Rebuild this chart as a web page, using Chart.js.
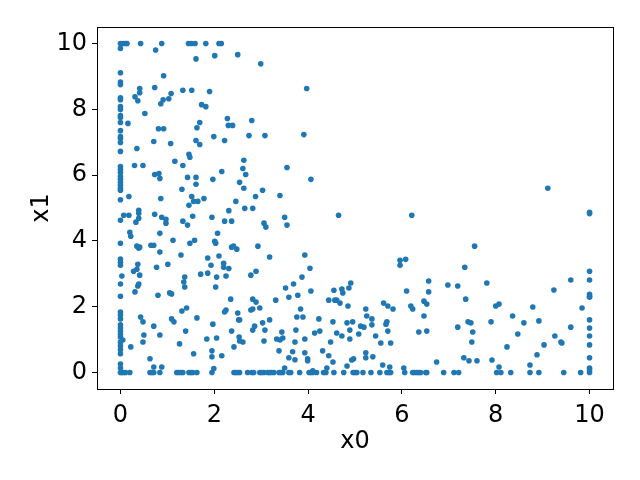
<!DOCTYPE html>
<html>
<head>
<meta charset="utf-8">
<script src="https://cdn.jsdelivr.net/npm/chart.js@4"></script>
<style>
  html, body { margin: 0; padding: 0; background: #fff; }
  canvas { display: block; }
</style>
</head>
<body>
<canvas id="scatter" width="640" height="480"></canvas>
<script>
// x0 / x1 coordinates (same order in both arrays)
const x0 = [
  0, 0.06, 0.11, 0.14, 0.43, 0.88, 1.45, 1.51, 1.59, 1.82, 2.10, 2.15,
  0, 0.75, 1.61, 2.01, 0, 0.92, 0, 0, 0.41, 0.41, 0.73, 1.33,
  1.52, 1.90, 1.08, 0.31, 0.37, 0, 0, 0.91, 0.86, 1.03, 1.73, 1.82,
  0, 0, 0.52, 0, 0, 0.16, 0, 2.28, 2.30, 2.39, 0.81, 0.92,
  1.63, 1.69, 0, 0, 0, 0, 0.71, 1.07, 1.61, 1.69, 1.99, 2.22,
  0, 0.35, 1.46, 1.48, 1.16, 1.33, 0.30, 0.48, 0, 0, 0, 0,
  0, 0, 0, 0, 0, 0, 2.16, 0.73, 0.82, 0.84, 1.43, 1.61,
  1.61, 1.97, 1.31, 0.18, 0.86, 1.52, 1.56, 1.65, 1.78, 1.46, 2.46, 0.39, 2.31,
  2.50, 2.99, 3.97, 2.80, 2.74, 3.08, 3.91, 2.63, 2.61, 2.67, 3.55, 4.06,
  2.54, 2.63, 3.03, 2.88, 3.40, 2.65, 2.82, 9.11,
  0.39, 0.39, 0.07, 0.18, 0, 0.33, 0.73, 0.88, 0.97, 0.97, 1.33, 1.54,
  1.43, 1.95, 2.22, 2.37, 0.20, 0.22, 0.84, 0, 1.12, 1.48, 1.58, 2.01,
  2.03, 2.07, 0.35, 0.39, 0.41, 0.65, 0.71, 0.84, 1.29, 2.37, 2.41, 1.86,
  2.10, 0, 0, 0, 0.37, 0.28, 0.35, 0.41, 0.77, 1.01, 1.93, 2.20,
  2.20, 1.71, 1.86, 2.05, 2.25, 2.03, 1.37, 1.35, 1.37, 0.03, 0, 0.37,
  0.39, 0.31, 0.80, 1.05, 1.09, 0, 1.31, 1.41, 2.25, 2.22,
  0, 0, 0, 0, 0, 0, 0, 0, 0, 0, 0, 0,
  0.43, 0.48, 1.09, 1.14, 1.63, 0.71, 1.39, 1.97, 2.37, 0.50, 0.84, 0.48,
  0.05, 0.22, 1.26, 1.84, 2.05, 2.42, 1.56, 1.95, 1.95, 2.16, 0.63, 0,
  0, 0.71, 0.88, 1.99,
  0, 0.03, 0.07, 0.11, 0.20, 0.63, 0.67, 0.71, 0.84,
  1.20, 1.24, 1.29, 1.33, 1.46, 1.50, 1.54, 1.63, 1.95,
  3.06, 3.10, 3.50, 3.55, 4.65, 6.21, 2.48, 2.93, 3.18, 2.31, 3.93, 4.04,
  3.87, 2.78, 2.89, 2.35, 2.82, 2.89, 2.78, 2.82, 2.97, 2.50, 2.52, 2.54,
  2.82, 2.86, 3.03, 3.08, 3.18, 3.31, 3.52, 3.59, 3.69, 3.78, 3.84, 3.76,
  3.89, 4.06, 4.23, 2.53, 2.61, 2.54, 3.06, 3.33, 3.40, 3.44, 3.46, 3.38,
  3.74, 3.72, 3.93, 3.67, 3.59, 3.72, 3.93, 3.99, 3.99, 4.14, 4.25, 4.31,
  4.44, 4.53, 4.40, 3.50, 4.44, 4.55, 4.57, 4.61, 4.68, 4.72, 4.74, 4.87,
  4.91, 4.85, 4.53, 4.61, 4.48, 4.72, 4.83, 4.89, 4.89, 4.95, 4.83, 4.93,
  4.97, 5.08, 5.12, 5.19, 5.23, 5.25, 5.36, 5.36, 5.23, 5.23, 5.38, 5.44,
  5.55, 5.61, 5.70, 5.81, 5.66, 5.68, 5.70, 5.76, 5.59, 5.74, 5.96, 5.96,
  6.08, 6.10, 6.19, 6.23, 6.47, 6.53, 6.57, 6.57, 6.47, 6.36, 6.53, 6.04, 4.10,
  2.42, 2.46, 2.50, 2.54, 2.71, 2.80, 2.84, 2.97, 3.01, 3.06, 3.14,
  3.18, 3.22, 3.27, 3.38, 3.42, 3.46, 3.59, 3.63, 3.82, 4.02, 4.06,
  4.10, 4.18, 4.33, 4.38, 4.55, 4.76, 4.96, 5.00, 5.04, 5.17, 5.34,
  5.53, 5.68, 5.72, 5.76, 6.06, 6.23, 6.27, 6.32, 6.36, 6.40, 6.53,
  10, 10, 7.55, 7.34, 6.98, 7.19, 7.81, 7.36, 8.00, 8.07, 8.36, 8.79,
  9.24, 9.60, 9.84,
  10, 10, 10, 10, 10, 10, 10, 10, 10, 10, 10, 10, 10,
  7.19, 7.41, 7.47, 7.51, 7.49, 7.90, 8.47, 8.60, 8.92, 8.24, 8.88, 9.03,
  9.26, 9.39, 9.41, 9.60, 6.74, 7.32, 7.43, 7.60, 7.92, 8.07, 8.73,
  6.51, 6.89, 7.11, 7.21, 8.02, 8.11, 8.32, 8.73, 8.92, 9.45, 9.81
];
const x1 = [
  10, 10, 10, 10, 10, 10, 10, 10, 10, 10, 10, 10,
  9.85, 9.8, 9.53, 9.63, 9.11, 9.02, 8.83, 8.75, 8.63, 8.5, 8.66, 8.58,
  8.58, 8.54, 8.48, 8.38, 8.26, 8.35, 8.29, 8.29, 8.17, 8.32, 8.14, 8.08,
  8.08, 7.99, 7.87, 7.81, 7.75, 7.57, 7.6, 7.72, 7.51, 7.51, 7.41, 7.41,
  7.44, 7.6, 7.35, 7.17, 7.11, 6.99, 7.02, 6.96, 7.05, 6.93, 7.17, 7.05,
  6.72, 6.81, 6.63, 6.54, 6.42, 6.29, 6.29, 6.29, 6.26, 6.17, 6.08, 5.96,
  5.87, 5.78, 5.69, 5.60, 5.54, 5.25, 6.11, 6.02, 6.05, 5.90, 5.93, 5.93,
  5.72, 5.87, 5.57, 5.35, 5.29, 5.35, 5.20, 5.20, 5.29, 5.08, 5.20, 4.93, 4.92,
  9.66, 9.38, 8.63, 7.66, 7.20, 7.20, 7.23, 6.45, 6.20, 6.02, 6.23, 5.87,
  5.78, 5.60, 5.54, 5.35, 5.38, 4.99, 4.99, 5.60,
  4.84, 4.69, 4.78, 4.78, 4.63, 4.57, 4.81, 4.72, 4.66, 4.54, 4.60, 4.75,
  4.48, 4.72, 4.60, 4.60, 4.26, 4.14, 4.23, 3.93, 4.02, 3.93, 4.02, 3.99,
  3.93, 4.23, 3.84, 3.78, 3.81, 3.87, 3.87, 3.66, 3.57, 3.81, 3.84, 3.48,
  3.54, 3.45, 3.35, 3.26, 3.29, 3.08, 3.14, 2.96, 3.20, 3.29, 3.26, 3.32,
  3.20, 2.99, 3.02, 2.90, 2.93, 2.60, 2.90, 2.75, 2.60, 2.93, 2.69, 2.63,
  2.69, 2.45, 2.35, 2.42, 2.39, 2.32, 1.87, 1.96, 1.90, 1.84,
  1.84, 1.75, 1.63, 1.45, 1.35, 1.26, 1.17, 1.08, 0.93, 0.81, 0.69, 0.57,
  1.69, 1.54, 1.63, 1.54, 1.66, 1.41, 1.26, 1.47, 1.26, 1.14, 1.14, 0.93,
  0.99, 0.78, 0.87, 1.02, 1.05, 0.78, 0.57, 0.66, 0.48, 0.51, 0.42, 0.26,
  0.14, 0.17, 0.17, 0.12,
  0, 0, 0, 0, 0, 0, 0, 0, 0,
  0, 0, 0, 0, 0, 0, 0, 0, 0,
  4.54, 4.42, 4.72, 4.48, 4.78, 4.78, 3.75, 3.84, 3.51, 3.16, 3.57, 3.17,
  2.90, 2.96, 3.08, 2.23, 2.23, 2.14, 1.90, 1.93, 1.96, 1.81, 1.60, 1.60,
  1.29, 1.41, 1.51, 1.29, 1.60, 2.20, 2.57, 2.29, 2.69, 2.35, 1.93, 1.69,
  1.69, 2.48, 1.63, 1.08, 0.93, 0.96, 0.96, 1.02, 0.99, 1.23, 1.05, 0.66,
  1.29, 0.93, 1.02, 0.63, 0.45, 0.39, 0.60, 0.42, 0.36, 1.20, 1.26, 0.66,
  0.51, 0.32, 0.14, 0.14, 2.20, 2.50, 2.20, 2.20, 2.11, 2.54, 2.42, 2.57,
  2.72, 2.02, 1.54, 1.20, 0.93, 1.11, 1.51, 1.29, 1.02, 1.54, 0.20, 0.38,
  0.42, 1.17, 1.41, 1.38, 1.93, 1.72, 1.63, 1.45, 0.60, 0.45, 0.48, 1.11,
  0.90, 2.11, 2.02, 1.93, 1.47, 1.54, 1.26, 0.90, 0.23, 0.17, 3.41, 3.26,
  3.44, 2.48, 2.02, 1.93, 2.17, 2.08, 2.78, 2.45, 1.72, 1.23, 1.26, 0.14, 0.05,
  0, 0, 0, 0, 0, 0, 0, 0, 0, 0, 0,
  0, 0, 0, 0, 0, 0, 0, 0, 0, 0, 0,
  0, 0, 0, 0, 0, 0, 0, 0, 0, 0, 0,
  0, 0, 0, 0, 0, 0, 0, 0, 0, 0, 0,
  4.83, 4.87, 3.84, 3.20, 2.66, 2.63, 2.72, 2.23, 2.02, 2.08, 1.72, 1.99,
  2.51, 2.81, 1.96,
  3.08, 2.81, 2.38, 2.32, 2.29, 1.60, 1.35, 1.11, 0.84, 0.45, 0.14, 0.08, 0,
  1.38, 1.54, 1.51, 1.23, 0.93, 1.54, 1.17, 1.51, 1.57, 0.78, 0.54, 0.84,
  1.11, 0.93, 0.90, 1.38, 0.32, 0.45, 0.36, 0.36, 0.38, 0.17, 0.23,
  0, 0, 0, 0, 0, 0, 0, 0, 0, 0, 0
];
const xTicks = [0, 2, 4, 6, 8, 10];
const yTicks = [0, 2, 4, 6, 8, 10];

const blue = '#1f77b4';
const tickFont = { family: 'DejaVu Sans', size: 24 };

// matplotlib-style box round the axes
const frame = {
  id: 'frame',
  afterDraw(chart) {
    const { ctx, chartArea: a } = chart;
    ctx.save();
    ctx.strokeStyle = '#000';
    ctx.lineWidth = 1;
    ctx.strokeRect(Math.round(a.left) + 0.5, Math.round(a.top) + 0.5,
      Math.round(a.right - a.left), Math.round(a.bottom - a.top));
    ctx.restore();
  }
};

new Chart(document.getElementById('scatter').getContext('2d'), {
  type: 'scatter',
  data: {
    datasets: [{
      data: x0.map((v, i) => ({ x: v, y: x1[i] })),
      backgroundColor: blue,
      borderWidth: 0,
      pointRadius: 2.8,
      pointHoverRadius: 2.8
    }]
  },
  options: {
    responsive: false,
    animation: false,
    layout: { padding: { left: 0, top: 27, right: 27, bottom: 0 } },
    plugins: {
      legend: { display: false },
      tooltip: { enabled: false }
    },
    scales: {
      x: {
        type: 'linear',
        min: -0.5,
        max: 10.5,
        afterBuildTicks: s => { s.ticks = xTicks.map(v => ({ value: v })); },
        afterFit: s => { s.height = 91; },
        grid: { drawOnChartArea: false, tickLength: 5, tickColor: '#000' },
        border: { display: false },
        ticks: { color: '#000', padding: 7, font: tickFont, maxRotation: 0, autoSkip: false },
        title: { display: true, text: 'x0', color: '#000', font: tickFont, padding: { top: 0, bottom: 24 } }
      },
      y: {
        type: 'linear',
        min: -0.5,
        max: 10.5,
        afterBuildTicks: s => { s.ticks = yTicks.map(v => ({ value: v })); },
        afterFit: s => { s.width = 97; },
        grid: { drawOnChartArea: false, tickLength: 5, tickColor: '#000' },
        border: { display: false },
        ticks: { color: '#000', padding: 5, font: tickFont, autoSkip: false },
        title: { display: true, text: 'x1', color: '#000', font: tickFont, padding: { top: 27, bottom: 0 } }
      }
    }
  },
  plugins: [frame]
});
</script>
</body>
</html>
